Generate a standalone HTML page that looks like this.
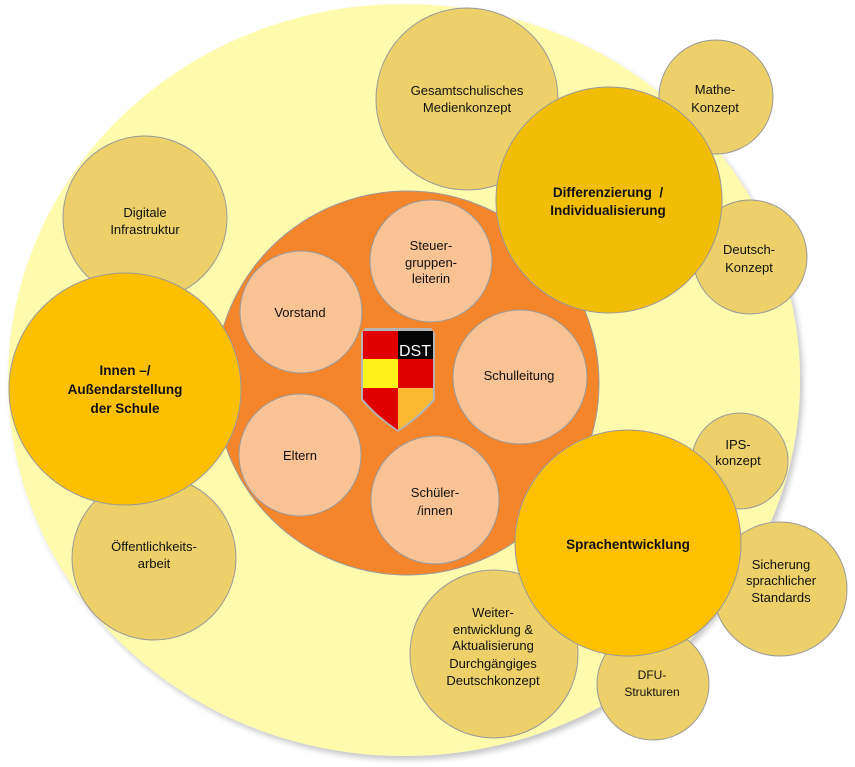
<!DOCTYPE html>
<html>
<head>
<meta charset="utf-8">
<style>
  html,body{margin:0;padding:0;background:#ffffff;}
  svg{display:block;}
  text{font-family:"Liberation Sans",Arial,sans-serif;font-size:13px;fill:#111;text-anchor:middle;}
  .b{font-weight:bold;font-size:13.5px;}
  .s{font-size:12px;}
  .c{stroke:#9a9a9a;stroke-width:1;}
</style>
</head>
<body>
<svg width="855" height="767" viewBox="0 0 855 767" xmlns="http://www.w3.org/2000/svg">
  <defs>
    <filter id="sh" x="-5%" y="-5%" width="112%" height="112%">
      <feGaussianBlur in="SourceAlpha" stdDeviation="3"/>
      <feOffset dx="3" dy="4" result="o"/>
      <feComponentTransfer><feFuncA type="linear" slope="0.22"/></feComponentTransfer>
      <feMerge><feMergeNode/><feMergeNode in="SourceGraphic"/></feMerge>
    </filter>
    <clipPath id="shield">
      <path d="M363,331 L433,331 L433,399 Q420,415 398,430 Q376,415 363,399 Z"/>
    </clipPath>
  </defs>

  <!-- big pale ellipse -->
  <ellipse cx="404" cy="380" rx="396" ry="376" fill="#FFFBAD" filter="url(#sh)"/>

  <!-- tan outer circles -->
  <circle class="c" cx="467" cy="99" r="91" fill="#EDD06A"/>
  <circle class="c" cx="716" cy="97" r="57" fill="#EDD06A"/>
  <circle class="c" cx="750" cy="257" r="57" fill="#EDD06A"/>
  <circle class="c" cx="145" cy="218" r="82" fill="#EDD06A"/>
  <circle class="c" cx="154" cy="558" r="82" fill="#EDD06A"/>
  <circle class="c" cx="740" cy="461" r="48" fill="#EDD06A"/>
  <circle class="c" cx="780" cy="589" r="67" fill="#EDD06A"/>
  <circle class="c" cx="653" cy="684" r="56" fill="#EDD06A"/>
  <circle class="c" cx="494" cy="654" r="84" fill="#EDD06A"/>

  <!-- orange core -->
  <circle class="c" cx="407" cy="383" r="192" fill="#F5852B"/>

  <!-- peach inner circles -->
  <circle class="c" cx="431" cy="261" r="61" fill="#F9C395"/>
  <circle class="c" cx="301" cy="312" r="61" fill="#F9C395"/>
  <circle class="c" cx="520" cy="377" r="67" fill="#F9C395"/>
  <circle class="c" cx="300" cy="455" r="61" fill="#F9C395"/>
  <circle class="c" cx="435" cy="500" r="64" fill="#F9C395"/>

  <!-- shield -->
  <g>
    <path d="M361,333 L365,328 L431,328 L435,333 L435,400 Q421,417 398,432 Q375,417 361,400 Z" fill="#B4B4B4"/>
    <g clip-path="url(#shield)">
      <rect x="363" y="331" width="35" height="28" fill="#E00000"/>
      <rect x="398" y="331" width="35" height="28" fill="#050505"/>
      <rect x="363" y="359" width="35" height="29" fill="#FFF21A"/>
      <rect x="398" y="359" width="35" height="29" fill="#E00000"/>
      <rect x="363" y="388" width="35" height="45" fill="#E00000"/>
      <rect x="398" y="388" width="35" height="45" fill="#FBB832"/>
    </g>
    <text x="415" y="356" style="font-size:16px;fill:#ffffff;">DST</text>
  </g>

  <!-- big gold circles -->
  <circle class="c" cx="609" cy="200" r="113" fill="#F1BD07"/>
  <circle class="c" cx="125" cy="389" r="116" fill="#FCBF02"/>
  <circle class="c" cx="628" cy="543" r="113" fill="#FDC002"/>

  <!-- labels -->
  <text x="467" y="95">Gesamtschulisches</text>
  <text x="467" y="112">Medienkonzept</text>

  <text x="715" y="94">Mathe-</text>
  <text x="715" y="112">Konzept</text>

  <text class="b" x="608" y="197" xml:space="preserve">Differenzierung  /</text>
  <text class="b" x="608" y="215">Individualisierung</text>

  <text x="749" y="254">Deutsch-</text>
  <text x="749" y="272">Konzept</text>

  <text x="145" y="217">Digitale</text>
  <text x="145" y="234">Infrastruktur</text>

  <text class="b" x="125" y="375">Innen –/</text>
  <text class="b" x="125" y="394">Außendarstellung</text>
  <text class="b" x="125" y="413">der Schule</text>

  <text x="154" y="551">Öffentlichkeits-</text>
  <text x="154" y="568">arbeit</text>

  <text x="300" y="317">Vorstand</text>

  <text x="431" y="250">Steuer-</text>
  <text x="431" y="267">gruppen-</text>
  <text x="431" y="283">leiterin</text>

  <text x="519" y="380">Schulleitung</text>

  <text x="300" y="460">Eltern</text>

  <text x="435" y="497">Schüler-</text>
  <text x="435" y="515">/innen</text>

  <text class="b" x="628" y="549">Sprachentwicklung</text>

  <text x="738" y="449">IPS-</text>
  <text x="738" y="465">konzept</text>

  <text x="781" y="569">Sicherung</text>
  <text x="781" y="585">sprachlicher</text>
  <text x="781" y="602">Standards</text>

  <text x="493" y="617">Weiter-</text>
  <text x="493" y="634">entwicklung &amp;</text>
  <text x="493" y="650">Aktualisierung</text>
  <text x="493" y="668">Durchgängiges</text>
  <text x="493" y="685">Deutschkonzept</text>

  <text class="s" x="652" y="679">DFU-</text>
  <text class="s" x="652" y="696">Strukturen</text>
</svg>
</body>
</html>
